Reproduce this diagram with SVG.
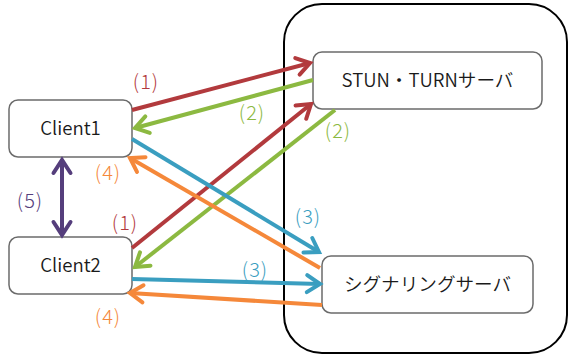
<svg xmlns="http://www.w3.org/2000/svg" width="568" height="356" viewBox="0 0 568 356">
<style>
.box{fill:#fff;stroke:#6b6b6b;stroke-width:1.5}
.t{font-family:"Noto Sans CJK JP","Noto Sans",sans-serif;font-size:18.6px;font-weight:350;fill:#1a1a1a;text-anchor:middle}
.lbl{font-family:"Noto Sans CJK JP","Noto Sans",sans-serif;font-size:20px;font-weight:300;letter-spacing:1px;text-anchor:middle}
.c{fill:none;stroke-width:4}
.red{stroke:#b23a3d}.green{stroke:#8cb941}.blue{stroke:#3a9ec0}.orange{stroke:#f5883a}.purple{stroke:#553e7c}
</style>
<defs>
<marker id="ar" markerUnits="userSpaceOnUse" markerWidth="30" markerHeight="30" refX="15" refY="15" orient="auto-start-reverse" overflow="visible"><path d="M2 6.5 L15 15 L2 23.5" fill="none" stroke="#b23a3d" stroke-width="4" stroke-linecap="round"/></marker>
<marker id="ag" markerUnits="userSpaceOnUse" markerWidth="30" markerHeight="30" refX="15" refY="15" orient="auto-start-reverse" overflow="visible"><path d="M2 6.5 L15 15 L2 23.5" fill="none" stroke="#8cb941" stroke-width="4" stroke-linecap="round"/></marker>
<marker id="ab" markerUnits="userSpaceOnUse" markerWidth="30" markerHeight="30" refX="15" refY="15" orient="auto-start-reverse" overflow="visible"><path d="M2 6.5 L15 15 L2 23.5" fill="none" stroke="#3a9ec0" stroke-width="4" stroke-linecap="round"/></marker>
<marker id="ao" markerUnits="userSpaceOnUse" markerWidth="30" markerHeight="30" refX="15" refY="15" orient="auto-start-reverse" overflow="visible"><path d="M2 6.5 L15 15 L2 23.5" fill="none" stroke="#f5883a" stroke-width="4" stroke-linecap="round"/></marker>
<marker id="ap" markerUnits="userSpaceOnUse" markerWidth="30" markerHeight="30" refX="15" refY="15" orient="auto-start-reverse" overflow="visible"><path d="M2 6.5 L15 15 L2 23.5" fill="none" stroke="#553e7c" stroke-width="4" stroke-linecap="round"/></marker>
</defs>
<rect width="568" height="356" fill="#fff"/>
<g id="servers-area">
<rect x="284" y="4" width="283" height="349" rx="38" fill="none" stroke="#000" stroke-width="2"/>
</g>
<g id="client1"><rect class="box" x="9" y="100" width="123" height="57" rx="9"/><text class="t" x="70.5" y="135">Client1</text></g>
<g id="client2"><rect class="box" x="9" y="237" width="123" height="57" rx="9"/><text class="t" x="70.5" y="272">Client2</text></g>
<g id="stun"><rect class="box" x="313" y="52" width="229" height="57" rx="9"/><text class="t" x="427.5" y="87">STUN・TURNサーバ</text></g>
<g id="signaling"><rect class="box" x="322" y="256" width="211" height="57" rx="9"/><text class="t" x="427.5" y="291">シグナリングサーバ</text></g>
<g id="connectors">
<line class="c red" x1="132" y1="110" x2="310" y2="63" marker-end="url(#ar)"/>
<line class="c green" x1="313" y1="80" x2="135" y2="128" marker-end="url(#ag)"/>
<line class="c red" x1="132" y1="248" x2="311" y2="104" marker-end="url(#ar)"/>
<line class="c green" x1="335" y1="110" x2="135" y2="267" marker-end="url(#ag)"/>
<line class="c orange" x1="320" y1="268" x2="130" y2="158" marker-end="url(#ao)"/>
<line class="c blue" x1="132" y1="139" x2="319" y2="252" marker-end="url(#ab)"/>
<line class="c blue" x1="132" y1="279" x2="320" y2="284" marker-end="url(#ab)"/>
<line class="c orange" x1="322" y1="305" x2="130" y2="293" marker-end="url(#ao)"/>
<line class="c purple" x1="62" y1="160" x2="62" y2="235" marker-start="url(#ap)" marker-end="url(#ap)"/>
</g>
<g id="labels">
<text class="lbl" x="146" y="89" fill="#b23a3d">(1)</text>
<text class="lbl" x="252" y="120" fill="#8cb941">(2)</text>
<text class="lbl" x="338" y="138" fill="#8cb941">(2)</text>
<text class="lbl" x="108" y="180" fill="#f5883a">(4)</text>
<text class="lbl" x="30" y="208" fill="#553e7c">(5)</text>
<text class="lbl" x="125" y="230" fill="#b23a3d">(1)</text>
<text class="lbl" x="308" y="224" fill="#3a9ec0">(3)</text>
<text class="lbl" x="255" y="277" fill="#3a9ec0">(3)</text>
<text class="lbl" x="108" y="324" fill="#f5883a">(4)</text>
</g>
</svg>
